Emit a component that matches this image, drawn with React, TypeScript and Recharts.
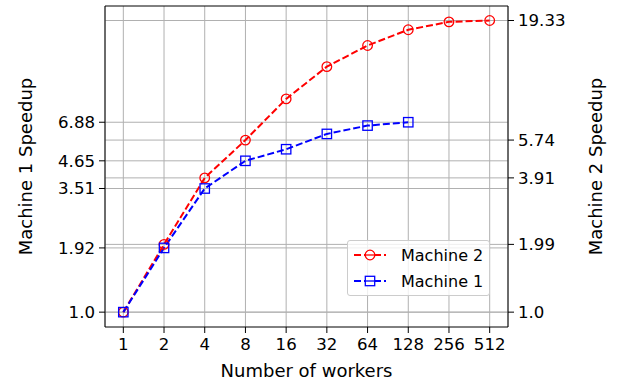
import { LineChart, Line, XAxis, YAxis, CartesianGrid, ReferenceLine } from "recharts";

const workers = ["1", "2", "4", "8", "16", "32", "64", "128", "256", "512"];
const machine1 = [1.0, 1.92, 3.51, 4.65, 5.23, 6.11, 6.65, 6.88];
const machine2 = [1.0, 1.99, 3.91, 5.74, 8.72, 12.1, 15.0, 17.6, 19.07, 19.33];
const leftTicks = [1.0, 1.92, 3.51, 4.65, 6.88];
const rightTicks = [1.0, 1.99, 3.91, 5.74, 19.33];
const seriesNames = ["Machine 2", "Machine 1"];

const Y_DOMAIN: [number, number] = [0.86, 22.4];
const FONT = "'DejaVu Sans', sans-serif";
const TICK_FS = 16.6;
const LABEL_FS = 18;
const RED = "#ff0000";
const BLUE = "#0000ff";

const data = workers.map((w, i) => ({ idx: i, m1: machine1[i], m2: machine2[i] }));
const fmt = (v: number) => (Number.isInteger(v) ? v.toFixed(1) : String(v));

function CircleDot(props: any) {
  const { cx, cy } = props;
  if (cx == null || cy == null || isNaN(cy)) return null;
  return <circle cx={cx} cy={cy} r={4.8} fill="none" stroke={RED} strokeWidth={1.3} />;
}

function SquareDot(props: any) {
  const { cx, cy } = props;
  if (cx == null || cy == null || isNaN(cy)) return null;
  return <rect x={cx - 4.7} y={cy - 4.7} width={9.4} height={9.4} fill="none" stroke={BLUE} strokeWidth={1.3} />;
}

const tickStyle = { fill: "#000", fontSize: TICK_FS, fontFamily: FONT };

function VLabel({ text, x, y }: { text: string; x: number; y: number }) {
  return (
    <text x={x} y={y} transform={`rotate(-90, ${x}, ${y})`} textAnchor="middle" dominantBaseline="central"
      fill="#000" fontSize={LABEL_FS} fontFamily={FONT}>
      {text}
    </text>
  );
}

function LegendBox() {
  const rows = [
    { name: seriesNames[0], color: RED, marker: "circle" },
    { name: seriesNames[1], color: BLUE, marker: "square" },
  ];
  return (
    <div style={{
      position: "absolute", left: 347, top: 240, width: 143, height: 56, boxSizing: "border-box",
      border: "1px solid #cccccc", borderRadius: 3, background: "rgba(255,255,255,0.8)",
      fontFamily: FONT, fontSize: 16, color: "#000",
    }}>
      {rows.map((r, i) => (
        <div key={r.name} style={{ position: "absolute", left: 5, top: 4 + i * 26, height: 20, display: "flex", alignItems: "center" }}>
          <svg width={34} height={14} style={{ marginRight: 14 }}>
            <line x1={1} y1={7} x2={33} y2={7} stroke={r.color} strokeWidth={2} strokeDasharray="7 3" />
            {r.marker === "circle" ? (
              <circle cx={17} cy={7} r={4.8} fill="white" stroke={r.color} strokeWidth={1.3} />
            ) : (
              <rect x={12.3} y={2.3} width={9.4} height={9.4} fill="white" stroke={r.color} strokeWidth={1.3} />
            )}
            <line x1={12} y1={7} x2={22} y2={7} stroke={r.color} strokeWidth={1.3} />
          </svg>
          <span>{r.name}</span>
        </div>
      ))}
    </div>
  );
}

export default function App() {
  return (
    <div style={{ position: "absolute", left: 0, top: 0, width: 617, height: 381, background: "#fff" }}>
      <LineChart width={617} height={381} data={data} margin={{ top: 6, right: 0, bottom: 0, left: 0 }}>
        <CartesianGrid
          xAxisId="bottom"
          yAxisId="left"
          stroke="#b0b0b0"
          strokeWidth={1}
          horizontalValues={[...leftTicks, ...rightTicks]}
        />
        <XAxis
          xAxisId="bottom"
          dataKey="idx"
          type="number"
          domain={[-0.45, 9.45]}
          ticks={workers.map((_, i) => i)}
          tickFormatter={(i: number) => workers[i]}
          interval={0}
          height={54}
          tick={tickStyle}
          tickSize={6}
          tickMargin={5}
          axisLine={{ stroke: "#000" }}
          tickLine={{ stroke: "#000" }}
          label={{
            content: ({ viewBox }: any) => (
              <text x={viewBox.x + viewBox.width / 2} y={viewBox.y + 43} textAnchor="middle" dominantBaseline="central"
                fill="#000" fontSize={LABEL_FS} fontFamily={FONT}>Number of workers</text>
            ),
          }}
        />
        <YAxis
          yAxisId="left"
          orientation="left"
          type="number"
          scale="log"
          domain={Y_DOMAIN}
          allowDataOverflow
          ticks={leftTicks}
          tickFormatter={fmt}
          interval={0}
          width={105}
          tick={tickStyle}
          tickSize={6}
          tickMargin={4}
          axisLine={{ stroke: "#000" }}
          tickLine={{ stroke: "#000" }}
          label={{
            content: ({ viewBox }: any) => (
              <VLabel text="Machine 1 Speedup" x={viewBox.x + 25} y={viewBox.y + viewBox.height / 2} />
            ),
          }}
        />
        <YAxis
          yAxisId="right"
          orientation="right"
          type="number"
          scale="log"
          domain={Y_DOMAIN}
          allowDataOverflow
          ticks={rightTicks}
          tickFormatter={fmt}
          interval={0}
          width={109}
          tick={tickStyle}
          tickSize={6}
          tickMargin={4}
          axisLine={{ stroke: "#000" }}
          tickLine={{ stroke: "#000" }}
          label={{
            content: ({ viewBox }: any) => (
              <VLabel text="Machine 2 Speedup" x={viewBox.x + 87} y={viewBox.y + viewBox.height / 2} />
            ),
          }}
        />
        <ReferenceLine xAxisId="bottom" yAxisId="left" y={Y_DOMAIN[1]} stroke="#000" strokeWidth={1} />
        <Line
          xAxisId="bottom"
          yAxisId="right"
          dataKey="m2"
          name={seriesNames[0]}
          stroke={RED}
          strokeWidth={2}
          strokeDasharray="7 3"
          dot={<CircleDot />}
          isAnimationActive={false}
        />
        <Line
          xAxisId="bottom"
          yAxisId="left"
          dataKey="m1"
          name={seriesNames[1]}
          stroke={BLUE}
          strokeWidth={2}
          strokeDasharray="7 3"
          dot={<SquareDot />}
          isAnimationActive={false}
        />
      </LineChart>
      <LegendBox />
    </div>
  );
}
